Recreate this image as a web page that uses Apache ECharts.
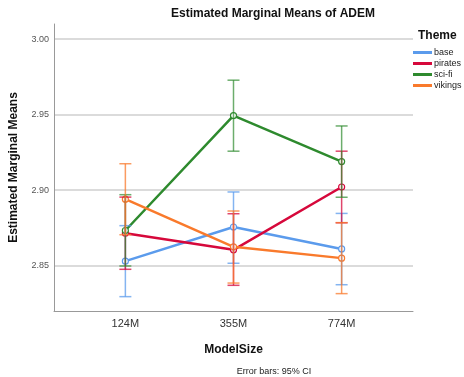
<!DOCTYPE html>
<html>
<head>
<meta charset="utf-8">
<script src="https://cdn.jsdelivr.net/npm/echarts@6/dist/echarts.min.js"></script>
<style>html,body{margin:0;padding:0;background:#fff}#c{width:464px;height:377px}</style>
</head>
<body>
<div id="c"></div>
<script>
const categories = ['124M', '355M', '774M'];
const yTicks = [2.85, 2.90, 2.95, 3.00];
const themes = ['base', 'pirates', 'sci-fi', 'vikings'];

const baseMean = [2.853, 2.8756, 2.8611];
const baseLo = [2.8295, 2.8516, 2.8374];
const baseHi = [2.8765, 2.8988, 2.8846];

const piratesMean = [2.8715, 2.8605, 2.9021];
const piratesLo = [2.8476, 2.8370, 2.8784];
const piratesHi = [2.8954, 2.8844, 2.9258];

const scifiMean = [2.8733, 2.9494, 2.9189];
const scifiLo = [2.8498, 2.9258, 2.8953];
const scifiHi = [2.8970, 2.9728, 2.9425];

const vikingsMean = [2.8940, 2.8625, 2.8550];
const vikingsLo = [2.8705, 2.8385, 2.8315];
const vikingsHi = [2.9175, 2.8862, 2.8785];

const colors = ['#5b9bec', '#d6083b', '#2e8a2e', '#f97a2c'];
const barColors = ['rgba(91,155,236,0.75)', 'rgba(214,8,59,0.75)', 'rgba(46,138,46,0.7)', 'rgba(249,122,44,0.75)'];

const means = [baseMean, piratesMean, scifiMean, vikingsMean];
const los = [baseLo, piratesLo, scifiLo, vikingsLo];
const his = [baseHi, piratesHi, scifiHi, vikingsHi];

const FONT = '"Liberation Sans", Arial, sans-serif';
const chart = echarts.init(document.getElementById('c'), null, {renderer: 'canvas'});

const series = [];
themes.forEach((t, k) => {
  series.push({
    name: t + ' CI',
    type: 'custom',
    z: 3,
    silent: true,
    data: categories.map((c, i) => [i, los[k][i], his[k][i]]),
    renderItem: function (params, api) {
      const lo = api.coord([api.value(0), api.value(1)]);
      const hi = api.coord([api.value(0), api.value(2)]);
      const hw = 6;
      const st = {stroke: barColors[k], lineWidth: 1.5};
      return {
        type: 'group',
        children: [
          {type: 'line', shape: {x1: lo[0], y1: lo[1], x2: hi[0], y2: hi[1]}, style: st},
          {type: 'line', shape: {x1: lo[0] - hw, y1: lo[1], x2: lo[0] + hw, y2: lo[1]}, style: st},
          {type: 'line', shape: {x1: hi[0] - hw, y1: hi[1], x2: hi[0] + hw, y2: hi[1]}, style: st}
        ]
      };
    }
  });
});
themes.forEach((t, k) => {
  series.push({
    name: t,
    type: 'line',
    z: 2,
    data: categories.map((c, i) => [i, means[k][i]]),
    lineStyle: {color: colors[k], width: 2.5},
    itemStyle: {color: '#fff', borderColor: colors[k], borderWidth: 1.2},
    color: colors[k],
    symbol: 'circle',
    symbolSize: 6,
    showSymbol: true,
    animation: false
  });
});

chart.setOption({
  animation: false,
  textStyle: {fontFamily: FONT},
  title: [
    {text: 'Estimated Marginal Means of ADEM', left: 273, top: 8, textAlign: 'center', padding: 0,
     textStyle: {fontFamily: FONT, fontSize: 12, fontWeight: 'bold', color: '#111'}},
    {text: 'Theme', left: 418, top: 30, padding: 0,
     textStyle: {fontFamily: FONT, fontSize: 12, fontWeight: 'bold', color: '#111'}},
    {text: 'Error bars: 95% CI', left: 274, top: 367, textAlign: 'center', padding: 0,
     textStyle: {fontFamily: FONT, fontSize: 9, fontWeight: 'normal', color: '#222'}}
  ],
  legend: {
    data: themes.map((t, k) => ({name: t, icon: 'rect', itemStyle: {color: colors[k], borderWidth: 0}})),
    orient: 'vertical',
    left: 413,
    top: 48,
    itemWidth: 19,
    itemHeight: 3,
    itemGap: 2,
    padding: 0,
    textStyle: {fontFamily: FONT, fontSize: 9, color: '#222', padding: [0, 0, 0, -3]}
  },
  grid: {left: 53, right: 51, top: 24, bottom: 66, containLabel: false},
  xAxis: {
    type: 'value',
    min: -0.66,
    max: 2.66,
    name: 'ModelSize',
    nameLocation: 'middle',
    nameGap: 33,
    nameTextStyle: {fontFamily: FONT, fontSize: 12, fontWeight: 'bold', color: '#111'},
    axisLine: {show: true, onZero: false, lineStyle: {color: '#999', width: 1}},
    axisTick: {show: false, customValues: [0, 1, 2]},
    splitLine: {show: false},
    axisLabel: {customValues: [0, 1, 2], formatter: v => categories[Math.round(v)], fontSize: 11, color: '#333', margin: 7, fontFamily: FONT}
  },
  yAxis: {
    type: 'value',
    min: 2.82,
    max: 3.01,
    name: 'Estimated Marginal Means',
    nameLocation: 'middle',
    nameGap: 34,
    nameTextStyle: {fontFamily: FONT, fontSize: 12, fontWeight: 'bold', color: '#111'},
    axisLine: {show: true, onZero: false, lineStyle: {color: '#999', width: 1}},
    axisTick: {show: false, customValues: yTicks},
    splitLine: {show: true, lineStyle: {color: '#cfcfcf', width: 1.5}},
    axisLabel: {customValues: yTicks, formatter: v => v.toFixed(2), fontSize: 9, color: '#555', margin: 5, fontFamily: FONT}
  },
  series: series
});
</script>
</body>
</html>
